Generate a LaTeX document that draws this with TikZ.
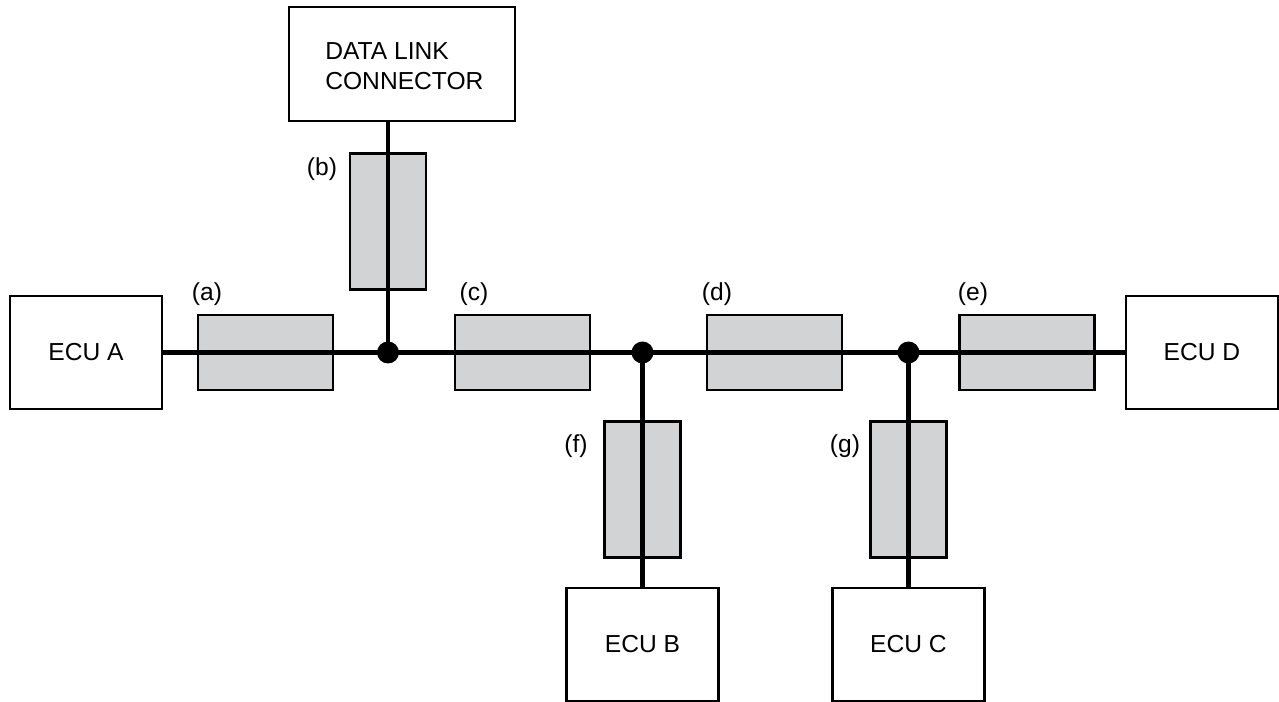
\documentclass[tikz,border=0pt]{standalone}
\usepackage{fontspec}
\setmainfont{Liberation Sans}
\definecolor{shade}{HTML}{D1D3D4}
\begin{document}
\begin{tikzpicture}[x=0.02cm,y=-0.02cm,
  box/.style={draw=black,line width=1.2pt,fill=white,inner sep=0pt,font=\fontsize{14}{16}\selectfont},
  ecu/.style={box,minimum width=3.04cm,minimum height=2.26cm},
  hsleeve/.style={draw=black,line width=1.2pt,fill=shade,minimum width=2.7cm,minimum height=1.5cm,inner sep=0pt},
  vsleeve/.style={draw=black,line width=1.2pt,fill=shade,minimum width=1.52cm,minimum height=2.72cm,inner sep=0pt},
  lbl/.style={font=\fontsize{14}{16}\selectfont,inner sep=0pt},
  bus/.style={line width=2.8pt},
  dot/.style={circle,fill=black,minimum size=0.44cm,inner sep=0pt}]
\useasboundingbox (0,0) rectangle (1279,702);
% boxes
\node[ecu] (ecua) at (86,352.5) {ECU A};
\node[ecu] (ecud) at (1202,352.5) {ECU D};
\node[ecu] (ecub) at (642.5,644.5) {ECU B};
\node[ecu] (ecuc) at (908.5,644.5) {ECU C};
\node[box,minimum width=4.52cm,minimum height=2.28cm] (dlc) at (402,64) {};
\node[lbl,anchor=west,align=left,font=\fontsize{14}{17}\selectfont] (dlct) at (325,66) {DATA LINK\\CONNECTOR};
% junctions
\coordinate (j1) at (388,352.5);
\coordinate (j2) at (642.5,352.5);
\coordinate (j3) at (908.5,352.5);
% sleeves
\node[hsleeve] (sa) at (265.5,352.5) {};
\node[hsleeve] (sc) at (522.5,352.5) {};
\node[hsleeve] (sd) at (774.5,352.5) {};
\node[hsleeve] (se) at (1027,352.5) {};
\node[vsleeve] (sb) at (388,221.5) {};
\node[vsleeve] (sf) at (642.5,489.5) {};
\node[vsleeve] (sg) at (908.5,489.5) {};
% labels
\node[lbl] (la) at (207,294) {(a)};
\node[lbl] (lb) at (322,169) {(b)};
\node[lbl] (lc) at (474,294) {(c)};
\node[lbl] (ld) at (717,294) {(d)};
\node[lbl] (le) at (973,294) {(e)};
\node[lbl] (lf) at (576,446) {(f)};
\node[lbl] (lg) at (845,446) {(g)};
% wires
\draw[bus] (ecua.east) -- (ecud.west);
\draw[bus] (j1 |- dlc.south) -- (j1);
\draw[bus] (j2) -- (ecub.north);
\draw[bus] (j3) -- (ecuc.north);
\node[dot] (d1) at (j1) {};
\node[dot] (d2) at (j2) {};
\node[dot] (d3) at (j3) {};
\end{tikzpicture}
\end{document}
